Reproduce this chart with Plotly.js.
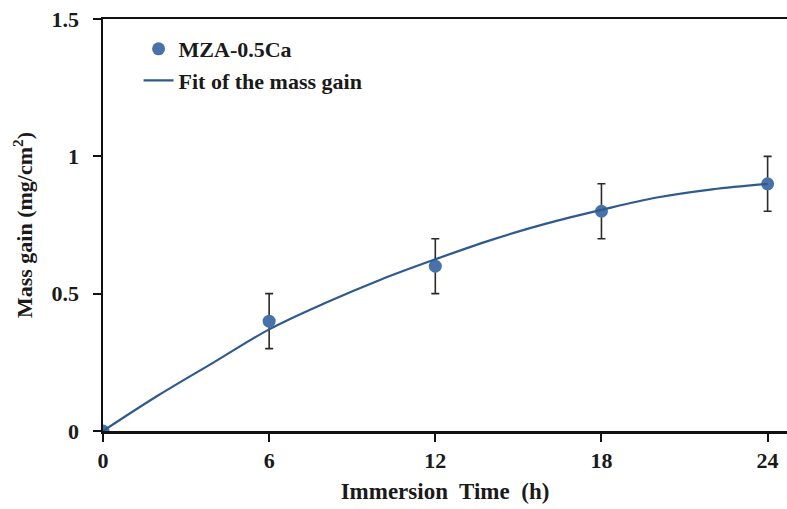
<!DOCTYPE html>
<html>
<head>
<meta charset="utf-8">
<script src="https://cdn.plot.ly/plotly-3.0.1.min.js"></script>
<style>html,body{margin:0;padding:0;background:#fff;}#chart{width:787px;height:509px;}</style>
</head>
<body>
<div id="chart"></div>
<script>
// Measured data
const timeH = [0, 6, 12, 18, 24];
const massGain = [0, 0.40, 0.60, 0.80, 0.90];
const massErr = [0, 0.10, 0.10, 0.10, 0.10];

// Fit curve
const fitX = [0, 2, 4, 6, 8, 10, 12, 14, 16, 18, 20, 22, 24];
const fitY = [0, 0.13, 0.25, 0.37, 0.465, 0.55, 0.625, 0.695, 0.755, 0.805, 0.85, 0.88, 0.90];

const xTicks = [0, 6, 12, 18, 24];
const yTicks = [0, 0.5, 1, 1.5];
const yTickText = ['0', '0.5', '1', '1.5'];

const serif = 'Liberation Serif, Times New Roman, serif';
const txtColor = '#1a1a1a';

const traces = [
  {
    x: timeH, y: massGain, type: 'scatter', mode: 'markers', name: 'MZA-0.5Ca',
    marker: {color: '#4a72aa', size: 13},
    error_y: {type: 'data', array: massErr, visible: true, color: '#2b2b2b', thickness: 1.6, width: 4}
  },
  {
    x: fitX, y: fitY, type: 'scatter', mode: 'lines', name: 'Fit of the mass gain',
    line: {color: '#2e5a8e', width: 2.2, shape: 'spline'}
  }
];

const layout = {
  width: 787, height: 509,
  margin: {l: 103, r: 0, t: 19, b: 78},
  paper_bgcolor: '#fff', plot_bgcolor: '#fff',
  font: {family: serif, color: txtColor, size: 20},
  showlegend: true,
  legend: {
    x: 0.052, y: 0.978, xanchor: 'left', yanchor: 'top',
    bgcolor: 'rgba(0,0,0,0)',
    font: {family: serif, size: 22, color: txtColor, weight: 'bold'},
    tracegroupgap: 0, itemwidth: 30
  },
  xaxis: {
    range: [0, 24.7], tickvals: xTicks, ticktext: xTicks.map(String),
    showgrid: false, zeroline: false,
    showline: true, linecolor: '#111', linewidth: 2.5, mirror: true,
    ticks: 'outside', ticklen: 8, tickwidth: 2, tickcolor: '#111',
    tickfont: {family: serif, size: 22, color: txtColor, weight: 'bold'},
    title: {text: 'Immersion  Time  (h)', font: {family: serif, size: 23, color: txtColor, weight: 'bold'}, standoff: 11}
  },
  yaxis: {
    range: [0, 1.5], tickvals: yTicks, ticktext: yTickText,
    showgrid: false, zeroline: false,
    showline: true, linecolor: '#111', linewidth: 2.5,
    ticks: 'outside', ticklen: 8, tickwidth: 2, tickcolor: '#111',
    ticklabelstandoff: 9,
    tickfont: {family: serif, size: 22, color: txtColor, weight: 'bold'},
    title: {text: 'Mass gain (mg/cm<sup>2</sup>)', font: {family: serif, size: 22, color: txtColor, weight: 'bold'}, standoff: 13}
  }
};

Plotly.newPlot('chart', traces, layout, {displayModeBar: false, staticPlot: true});
</script>
</body>
</html>
